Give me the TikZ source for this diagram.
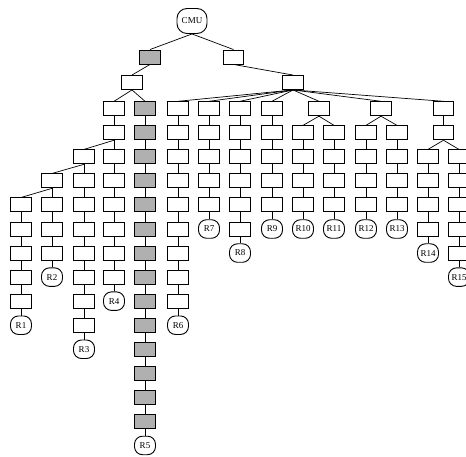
\documentclass[tikz,border=0pt]{standalone}
\usepackage{fontspec}
\setmainfont{Liberation Serif}
\definecolor{boxgray}{RGB}{176,176,176}
\begin{document}
\begin{tikzpicture}[x=1pt,y=-1pt,
  declare function={ry(\r)=36.6+24.05*\r;},
  box/.style={draw, line width=0.9pt, minimum width=20.5pt, minimum height=14pt, inner sep=0pt, fill=white},
  gbox/.style={box, fill=boxgray},
  leaf/.style={draw, line width=0.9pt, rounded corners=8pt, minimum width=21pt, minimum height=18.5pt, inner sep=0pt, fill=white, font=\fontsize{9}{9}\selectfont},
  rootnode/.style={draw, line width=0.9pt, rounded corners=10pt, minimum width=30pt, minimum height=25pt, inner sep=0pt, fill=white, font=\fontsize{9}{9}\selectfont},
  edge/.style={line width=0.7pt}]
\clip (0,0) rectangle (466,457);

% top of the tree
\node[rootnode] (cmu) at (192,21) {CMU};
\node[gbox] (l1a) at (150,57) {};
\node[box] (l1b) at (233.5,57) {};
\node[box] (l2a) at (132,82.5) {};
\node[box] (l2b) at (293,82.5) {};
\node[box] (n319-3) at (319,{ry(3)}) {};
\node[box] (n381-3) at (381,{ry(3)}) {};
\node[box] (n443-3) at (443.5,{ry(3)}) {};
\node[box] (n443-4) at (443.5,{ry(4)}) {};

% chains ending in leaves
\foreach \x/\a/\b/\lab/\st in {21/7/11/R1/box, 52/6/9/R2/box, 84/5/12/R3/box,
    114/3/10/R4/box, 145/3/16/R5/gbox, 178/3/11/R6/box, 209/3/7/R7/box,
    240/3/8/R8/box, 272/3/7/R9/box, 303/4/7/R10/box, 334/4/7/R11/box,
    366/4/7/R12/box, 397/4/7/R13/box, 428/5/8/R14/box, 459/5/9/R15/box} {
  \foreach \r in {\a,...,\b} {
    \node[\st] (n\x-\r) at (\x,{ry(\r)}) {};
  }
  \pgfmathtruncatemacro\nr{\b+1}
  \node[leaf] (n\x-\nr) at (\x,{ry(\nr)}) {\lab};
  \foreach \r [evaluate=\r as \s using int(\r+1)] in {\a,...,\b} {
    \draw[edge] (n\x-\r.south) -- (n\x-\s.north);
  }
}

% branch connectors
\draw[edge] (cmu.south) -- (l1a.north);
\draw[edge] (cmu.south) -- (l1b.north);
\draw[edge] (l1a.south) -- (l2a.north);
\draw[edge] (l2a.south) -- (n114-3.north);
\draw[edge] (l2a.south) -- (n145-3.north);
\draw[edge] (n114-4.south) -- (n84-5.north);
\draw[edge] (n84-5.south) -- (n52-6.north);
\draw[edge] (n52-6.south) -- (n21-7.north);
\draw[edge] (l1b.south) -- (l2b.north);
\foreach \t in {n178-3, n209-3, n240-3, n272-3, n319-3, n381-3, n443-3}
  \draw[edge] (l2b.south) -- (\t.north);
\draw[edge] (n319-3.south) -- (n303-4.north);
\draw[edge] (n319-3.south) -- (n334-4.north);
\draw[edge] (n381-3.south) -- (n366-4.north);
\draw[edge] (n381-3.south) -- (n397-4.north);
\draw[edge] (n443-3.south) -- (n443-4.north);
\draw[edge] (n443-4.south) -- (n428-5.north);
\draw[edge] (n443-4.south) -- (n459-5.north);
\end{tikzpicture}
\end{document}
